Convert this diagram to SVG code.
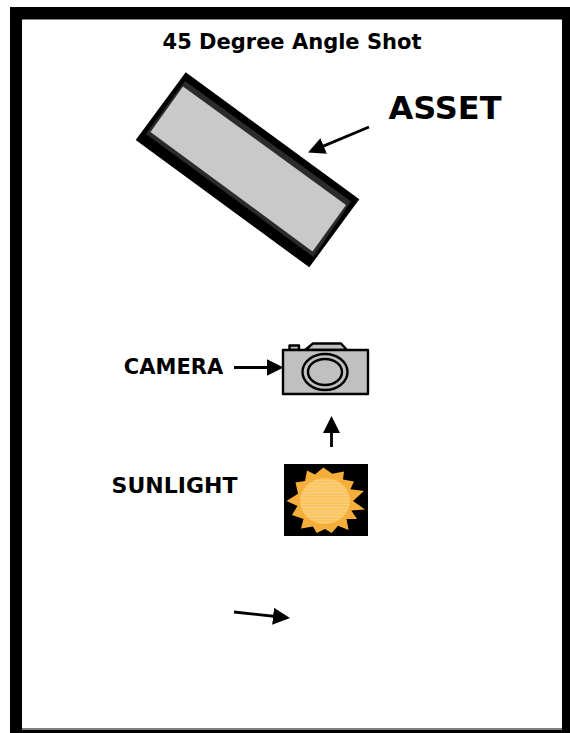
<svg xmlns="http://www.w3.org/2000/svg" width="570" height="733" viewBox="0 0 570 733">
<style>
.lbl{font-family:"DejaVu Sans",Verdana,sans-serif;font-weight:700;fill:#000}
.conn{stroke:#000;stroke-width:2.800;fill:none}
.cam{stroke:#000;stroke-width:2.400;fill:#c0c0c0;stroke-linejoin:round}
</style>
<defs>
<marker id="ah" markerUnits="userSpaceOnUse" markerWidth="18" markerHeight="18" refX="12" refY="8.500" orient="auto"><path d="M0 0L17 8.500L0 17L0 0Z" fill="#000"/></marker>
<pattern id="stripes" width="4" height="3" patternUnits="userSpaceOnUse"><rect width="4" height="3" fill="#fbc55f"/><rect width="4" height="1" fill="#f8cf80"/></pattern>
</defs>
<rect width="570" height="733" fill="#fff"/>
<g id="frame">
<rect x="10" y="7" width="560" height="726" fill="#000"/>
<rect x="22" y="19" width="540" height="711" fill="#808080"/>
<rect x="22" y="20" width="540" height="708" fill="#fff"/>
</g>
<g id="asset">
<polygon points="185.7,72.3 359.3,199.3 309.3,267.3 135.7,140" fill="#000"/>
<polygon points="185,81 351,201.500 313.500,257 146,134" fill="#2b2b2b"/>
<polygon points="183,86.500 346,205 312.500,251.500 150.500,132" fill="#c9c9c9"/>
</g>
<g id="camera">
<path class="cam" d="M289.500 350V345.500H299V350Z"/>
<path class="cam" d="M305 350L313 343.500H341L347 350Z"/>
<rect class="cam" x="283" y="350" width="85" height="44"/>
<ellipse class="cam" cx="325" cy="372" rx="22.500" ry="18"/>
<ellipse class="cam" cx="325" cy="372" rx="17" ry="13"/>
</g>
<g id="sun">
<rect x="284" y="464" width="84" height="72" fill="#000"/>
<polygon fill="#f6ae3a" points="323.300,467.500 332.300,473.800 344,471.500 343,479.500 354,481.500 350.400,489.200 364,491 353,501 365,509.500 351.300,510.600 357,519 346.500,519 348.500,530 338,525.700 331.700,533 325,529 316.700,533 313,526.500 301,528.500 303.500,519 292,515 297.500,506 286.500,501 298,493.800 295.500,482.500 305,481 307,470.500 315,474.500"/>
<ellipse cx="325" cy="501" rx="25" ry="23" fill="url(#stripes)"/>
</g>
<g id="connectors">
<line class="conn" x1="369" y1="127" x2="312.600" y2="150.600" marker-end="url(#ah)"/>
<line class="conn" x1="234" y1="367.500" x2="278.500" y2="367.500" marker-end="url(#ah)"/>
<line class="conn" x1="331.500" y1="447" x2="331.500" y2="421" marker-end="url(#ah)"/>
<line class="conn" x1="234" y1="612" x2="285" y2="617.500" marker-end="url(#ah)"/>
</g>
<g id="labels">
<text class="lbl" x="292" y="49" font-size="21" text-anchor="middle">45 Degree Angle Shot</text>
<text class="lbl" x="445" y="119" font-size="32" text-anchor="middle">ASSET</text>
<text class="lbl" x="173.500" y="374" font-size="21" text-anchor="middle">CAMERA</text>
<text class="lbl" x="174.500" y="493" font-size="22" text-anchor="middle">SUNLIGHT</text>
</g>
</svg>
